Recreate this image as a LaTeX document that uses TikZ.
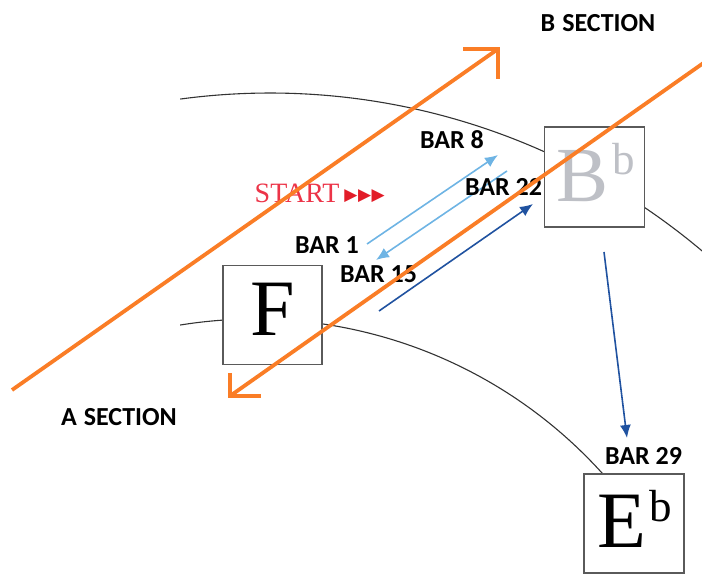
\documentclass[tikz,border=0pt]{standalone}
\usepackage{fontspec}
\setmainfont{Liberation Serif}
\newfontfamily\labelfont{Carlito}
\newfontfamily\symfont{DejaVu Sans}
\usetikzlibrary{arrows.meta}
\definecolor{secorange}{RGB}{250,125,38}
\definecolor{lightarrow}{RGB}{110,180,228}
\definecolor{darkarrow}{RGB}{32,82,160}
\definecolor{startred}{RGB}{236,52,72}
\definecolor{tipred}{RGB}{226,28,40}
\definecolor{boxgray}{RGB}{90,90,90}
\definecolor{chordgray}{RGB}{190,192,198}
\begin{document}
\begin{tikzpicture}[x=1pt,y=1pt,
  chordbox/.style={draw=boxgray, line width=1.4pt, fill=white,
    minimum width=99pt, minimum height=99pt, inner sep=0pt},
  circleline/.style={draw=black!80, line width=1.1pt},
  barlabel/.style={font=\labelfont\bfseries\fontsize{26}{26}\selectfont, inner sep=0pt},
  bigletter/.style={font=\fontsize{80}{80}\selectfont, inner sep=0pt, anchor=base west},
  lightpath/.style={draw=lightarrow, line width=1.6pt, -{Latex[length=13pt,width=11pt]}},
  darkpath/.style={draw=darkarrow, line width=1.6pt, -{Latex[length=13pt,width=11pt]}},
  orangeline/.style={draw=secorange, line width=3.8pt, line join=miter, line cap=butt},
]
\useasboundingbox (0,0) rectangle (702,576);

% circle of fifths: outer and inner rings
\coordinate (outerC) at (270,-187);
\coordinate (innerC) at (255,-211);
\draw[circleline] (outerC) ++(97.7:670pt) arc[start angle=97.7, end angle=48, radius=670pt];
\draw[circleline] (innerC) ++(99.2:468pt) arc[start angle=99.2, end angle=41.5, radius=468pt];

% chord boxes
\node[chordbox] (F) at (272.5,261) {};
\node[chordbox, minimum width=100pt, minimum height=100pt] (Bb) at (594.5,399) {};
\node[chordbox, minimum width=100pt] (Eb) at (634,52.5) {};

\node[bigletter] (Flbl) at (250.5,240) {F};
\node[bigletter, text=chordgray, font=\fontsize{78}{78}\selectfont] (Bblbl) at (556,374)
  {B\hspace{4pt}\raisebox{27pt}{\fontsize{45}{45}\selectfont b}};
\node[bigletter] (Eblbl) at (597,28)
  {E\hspace{3pt}\raisebox{26pt}{\fontsize{45}{45}\selectfont b}};

% bar-to-bar movements
\coordinate (a1s) at (367,332); \coordinate (a1e) at (498,421);
\coordinate (a2s) at (507,405); \coordinate (a2e) at (376,316);
\coordinate (a3s) at (379,265); \coordinate (a3e) at (533,372);
\coordinate (a4s) at (604,324); \coordinate (a4e) at (627,138);
\draw[lightpath] (a1s) -- (a1e);
\draw[lightpath] (a2s) -- (a2e);
\draw[darkpath] (a3s) -- (a3e);
\draw[darkpath] (a4s) -- (a4e);

% labels
\node[barlabel] (bsec) at (598,553) {B\hspace{7pt}SECTION};
\node[barlabel] (asec) at (119,159) {A\hspace{7pt}SECTION};
\node[barlabel] (bar8) at (452,436.5) {BAR 8};
\node[barlabel] (bar22) at (503.5,389.5) {BAR 22};
\node[barlabel] (bar1) at (327,331) {BAR 1};
\node[barlabel] (bar15) at (378.5,302) {BAR 15};
\node[barlabel] (bar29) at (643.5,120.5) {BAR 29};

\node[anchor=base west, inner sep=0pt, font=\fontsize{28}{28}\selectfont, text=startred] (start) at (254.5,373)
  {START\hspace{5pt}{\symfont\fontsize{17}{17}\selectfont\color{tipred}\raisebox{2pt}{▶\hspace{0.5pt}▶\hspace{0.5pt}▶}}};

% section boundaries
\coordinate (oA1) at (12,186); \coordinate (oA2) at (498,527);
\coordinate (oA2h) at (463,527); \coordinate (oA2v) at (498,497);
\draw[orangeline] (oA1) -- (oA2);
\draw[orangeline] (oA2h) -- (oA2) -- (oA2v);

\coordinate (oB1) at (712,519); \coordinate (oB2) at (230,180);
\coordinate (oB2v) at (230,203); \coordinate (oB2h) at (261,180);
\draw[orangeline] (oB1) -- (oB2);
\draw[orangeline] (oB2v) -- (oB2) -- (oB2h);
\end{tikzpicture}
\end{document}
